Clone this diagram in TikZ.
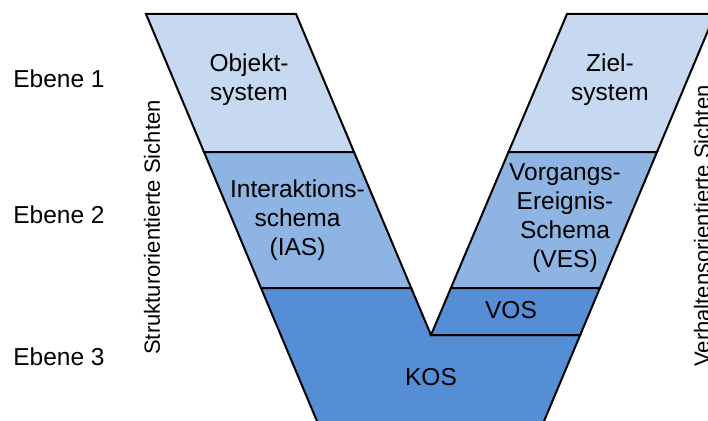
\documentclass[tikz,border=0pt]{standalone}
\usepackage{fontspec}
\setmainfont{Liberation Sans}
\definecolor{lightblue}{HTML}{C6D9F1}
\definecolor{midblue}{HTML}{8EB4E3}
\definecolor{darkblue}{HTML}{558ED5}
\begin{document}
\begin{tikzpicture}[x=1pt,y=-1pt,
  layer/.style={draw=black,line width=2pt,line join=miter},
  lbl/.style={font=\fontsize{24.5}{29}\selectfont,align=center,inner sep=0pt},
  side/.style={font=\fontsize{22}{26}\selectfont,inner sep=0pt,rotate=90}]
\useasboundingbox (0,0) rectangle (708,420);
\clip (0,0) rectangle (708,420);
% vertices
\coordinate (lo0) at (146,14);   \coordinate (li0) at (296,14);
\coordinate (lo1) at (204,152);  \coordinate (li1) at (354,152);
\coordinate (lo2) at (261,288);  \coordinate (li2) at (411.2,288);
\coordinate (lo3) at (324.9,440);
\coordinate (apex) at (431,335);
\coordinate (ri0) at (567,14);   \coordinate (ro0) at (715,14);
\coordinate (ri1) at (508.5,152);\coordinate (ro1) at (657,152);
\coordinate (ri2) at (450.9,288);\coordinate (ro2) at (599.9,288);
\coordinate (ro3) at (580.2,335);
\coordinate (ro4) at (536.1,440);
% layers
\draw[layer,fill=lightblue] (lo0) -- (li0) -- (li1) -- (lo1) -- cycle;
\draw[layer,fill=midblue] (lo1) -- (li1) -- (li2) -- (lo2) -- cycle;
\draw[layer,fill=lightblue] (ri0) -- (ro0) -- (ro1) -- (ri1) -- cycle;
\draw[layer,fill=midblue] (ri1) -- (ro1) -- (ro2) -- (ri2) -- cycle;
\draw[layer,fill=darkblue] (lo2) -- (li2) -- (apex) -- (ro3) -- (ro4) -- (lo3) -- cycle;
\draw[layer,fill=darkblue] (ri2) -- (ro2) -- (ro3) -- (apex) -- cycle;
% texts
\node[lbl] (obj) at (249,80) {Objekt-\\system};
\node[lbl] (ziel) at (610,80) {Ziel-\\system};
\node[lbl] (ias) at (297.5,220) {Interaktions-\\schema\\(IAS)};
\node[lbl] (ves) at (565,218) {Vorgangs-\\Ereignis-\\Schema\\(VES)};
\node[lbl] (vos) at (511,310.5) {VOS};
\node[lbl] (kos) at (431,377) {KOS};
\node[lbl] (e1) at (59,79) {Ebene 1};
\node[lbl] (e2) at (59,214.5) {Ebene 2};
\node[lbl] (e3) at (59,357) {Ebene 3};
\node[side] (struk) at (152,227.5) {Strukturorientierte Sichten};
\node[side] (verh) at (702,226) {Verhaltensorientierte Sichten};
\end{tikzpicture}
\end{document}
